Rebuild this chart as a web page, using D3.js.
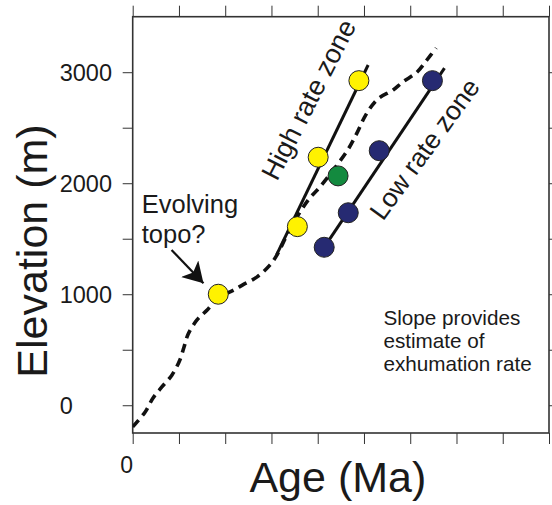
<!DOCTYPE html>
<html>
<head>
<meta charset="utf-8">
<script src="https://cdn.jsdelivr.net/npm/d3@7"></script>
<style>
	body { margin: 0; background: #fff; }
	svg text { font-family: "Liberation Sans", Arial, Helvetica, sans-serif; fill: #1a1a1a; }
</style>
</head>
<body>
<div id="chart"></div>
<script>
// ages (Ma) and elevations (m)
let yellowAge = [1.85, 3.56, 4.01, 4.89];
let yellowElev = [1000, 1609, 2234, 2924];
let greenAge = [4.44];
let greenElev = [2066];
let blueAge = [4.14, 4.66, 5.33, 6.48];
let blueElev = [1423, 1734, 2293, 2924];

// dashed topography curve
let topoAge = [0, 0.27, 0.44, 0.63, 0.85, 1.02, 1.11, 1.2, 1.39, 1.61, 1.84, 2.15, 2.38, 2.69, 2.97, 3.12, 3.38, 3.62, 3.83, 4.05, 4.37, 4.65, 4.85, 5.04, 5.3, 5.63, 5.84, 6.15, 6.36, 6.56];
let topoElev = [-195, -60, 66, 165, 273, 408, 525, 642, 768, 858, 967, 1030, 1084, 1156, 1264, 1354, 1571, 1742, 1868, 1967, 2138, 2300, 2453, 2616, 2759, 2840, 2912, 3002, 3110, 3218];

// zone lines (age, elevation of each end)
let highAge = [3.11, 5.09];
let highElev = [1354, 3065];
let lowAge = [4.16, 6.74];
let lowElev = [1435, 3036];

let yTicks = [0, 500, 1000, 1500, 2000, 2500, 3000];
let yLabels = [0, 1000, 2000, 3000];
let xTicks = d3.range(0, 10);

let margin = { top: 16.7, right: 3, bottom: 72, left: 132.7 };
let width = 416.3,
	height = 416.3;

let svg = d3.select('#chart').append('svg')
	.attr('width', 552)
	.attr('height', 505)
	.append('g')
	.attr('transform', 'translate(' + margin.left + ',' + margin.top + ')');

let x = d3.scaleLinear().domain([0, 9]).range([0, width]);
let y = d3.scaleLinear().domain([-250, 3500]).range([height, 0]);

// ticks on all four sides, pointing outward
function styleAxis(g) {
	g.select('.domain').remove();
	g.selectAll('.tick line').attr('stroke', '#333').attr('stroke-width', 1);
	g.selectAll('.tick text').remove();
}
svg.append('g').call(d3.axisLeft(y).tickValues(yTicks).tickSize(10)).call(styleAxis);
svg.append('g').attr('transform', 'translate(' + width + ',0)')
	.call(d3.axisRight(y).tickValues(yTicks).tickSize(10)).call(styleAxis);
svg.append('g').attr('transform', 'translate(0,' + height + ')')
	.call(d3.axisBottom(x).tickValues(xTicks).tickSize(11)).call(styleAxis);
svg.append('g').call(d3.axisTop(x).tickValues(xTicks).tickSize(11)).call(styleAxis);

svg.append('rect')
	.attr('width', width).attr('height', height)
	.attr('fill', 'none').attr('stroke', '#333').attr('stroke-width', 1.6);

// tick labels (left aligned in the original)
svg.selectAll('.ylab').data(yLabels).enter().append('text')
	.attr('x', -73)
	.attr('y', d => y(d))
	.attr('dy', '0.36em')
	.style('font-size', '23.5px')
	.text(d => d);

svg.append('text')
	.attr('x', x(0) - 6).attr('y', height + 40)
	.attr('text-anchor', 'middle')
	.style('font-size', '23px')
	.text('0');

// axis titles
svg.append('text')
	.attr('x', width / 2 - 3).attr('y', height + 59)
	.attr('text-anchor', 'middle')
	.style('font-size', '43px')
	.text('Age (Ma)');

svg.append('text')
	.attr('transform', 'translate(' + (47 - margin.left) + ',' + (251 - margin.top) + ') rotate(-90)')
	.attr('text-anchor', 'middle')
	.style('font-size', '43px')
	.text('Elevation (m)');

let defs = svg.append('defs');
defs.append('clipPath').attr('id', 'plotclip')
	.append('rect').attr('width', width).attr('height', height);

let line = d3.line()
	.x(d => x(d[0]))
	.y(d => y(d[1]));

// dashed topography curve
svg.append('path')
	.datum(d3.zip(topoAge, topoElev))
	.attr('clip-path', 'url(#plotclip)')
	.attr('d', line.curve(d3.curveCatmullRom.alpha(0.5)))
	.attr('fill', 'none')
	.attr('stroke', '#111')
	.attr('stroke-width', 3.6)
	.attr('stroke-dasharray', '9,6');

// zone lines
line.curve(d3.curveLinear);
svg.append('path')
	.datum(d3.zip(highAge, highElev))
	.attr('d', line)
	.attr('fill', 'none').attr('stroke', '#111').attr('stroke-width', 3);
svg.append('path')
	.datum(d3.zip(lowAge, lowElev))
	.attr('d', line)
	.attr('fill', 'none').attr('stroke', '#111').attr('stroke-width', 3);

// points
function dots(ages, elevs, color) {
	svg.selectAll(null)
		.data(d3.zip(ages, elevs))
		.enter().append('circle')
		.attr('cx', d => x(d[0]))
		.attr('cy', d => y(d[1]))
		.attr('r', 10)
		.attr('fill', color)
		.attr('stroke', '#222')
		.attr('stroke-width', 1);
}
dots(yellowAge, yellowElev, '#fff200');
dots(greenAge, greenElev, '#138a3f');
dots(blueAge, blueElev, '#262a72');

// annotations
let evolving = svg.append('text')
	.attr('x', x(0.195)).attr('y', y(1731))
	.style('font-size', '25.5px');
evolving.append('tspan').text('Evolving');
evolving.append('tspan').attr('x', x(0.195)).attr('dy', 30).text('topo?');

defs.append('marker')
	.attr('id', 'head')
	.attr('viewBox', '0 0 20 24')
	.attr('refX', 20).attr('refY', 12)
	.attr('markerWidth', 20).attr('markerHeight', 24)
	.attr('markerUnits', 'userSpaceOnUse')
	.attr('orient', 'auto')
	.append('path').attr('d', 'M0,0L20,12L0,24L5,12Z').attr('fill', '#111');

svg.append('line')
	.attr('x1', x(0.84)).attr('y1', y(1399))
	.attr('x2', x(1.53)).attr('y2', y(1099))
	.attr('stroke', '#111').attr('stroke-width', 2.2)
	.attr('marker-end', 'url(#head)');

svg.append('text')
	.attr('transform', 'translate(' + x(3.12) + ',' + y(2010) + ') rotate(-63)')
	.style('font-size', '27px')
	.text('High rate zone');

svg.append('text')
	.attr('transform', 'translate(' + x(5.41) + ',' + y(1653) + ') rotate(-54)')
	.style('font-size', '26.5px')
	.text('Low rate zone');

let note = svg.append('text')
	.attr('x', x(5.42)).attr('y', y(723))
	.style('font-size', '20.7px');
['Slope provides', 'estimate of', 'exhumation rate'].forEach(function(t, i) {
	note.append('tspan').attr('x', x(5.42)).attr('dy', i ? 23 : 0).text(t);
});
</script>
</body>
</html>
